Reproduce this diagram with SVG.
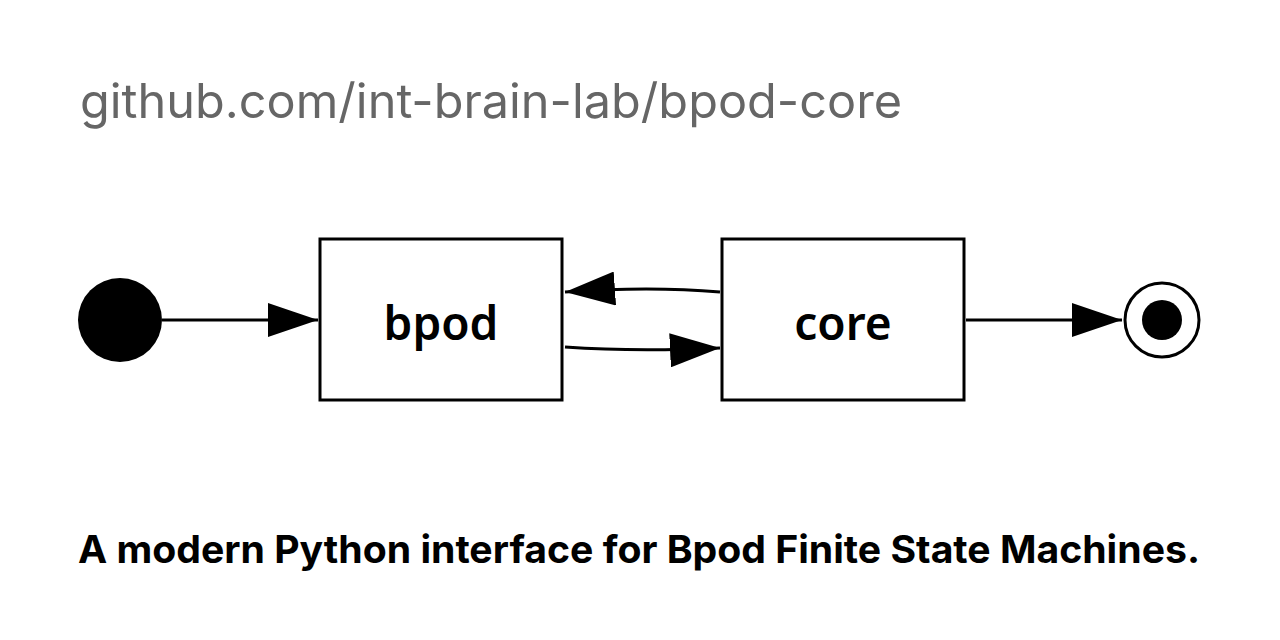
<svg xmlns="http://www.w3.org/2000/svg" width="1280" height="640" viewBox="0 0 1280 640">
<style>
.node{fill:#fff;stroke:#000;stroke-width:3}
.lbl{font-family:"Noto Sans",sans-serif;font-weight:600;font-size:46px;text-anchor:middle}
.edge{fill:none;stroke:#000;stroke-width:3}
</style>
<defs>
<marker id="ah" markerWidth="50" markerHeight="34" refX="50" refY="17" orient="auto" markerUnits="userSpaceOnUse">
<path d="M0,0 L50,17 L0,34 Z" fill="#000"/>
</marker>
</defs>
<rect width="1280" height="640" fill="#fff"/>
<text x="80" y="118" font-family="Inter,sans-serif" font-size="48" fill="#666" textLength="822" lengthAdjust="spacingAndGlyphs">github.com/int-brain-lab/bpod-core</text>
<g id="start"><circle cx="120" cy="320" r="42" fill="#000"/></g>
<g id="bpod"><rect class="node" x="320" y="239" width="242" height="161"/><text class="lbl" x="441" y="340">bpod</text></g>
<g id="core"><rect class="node" x="722" y="239" width="242" height="161"/><text class="lbl" x="843" y="340">core</text></g>
<g id="end"><circle cx="1162" cy="320" r="37" fill="#fff" stroke="#000" stroke-width="3"/><circle cx="1162" cy="320" r="20" fill="#000"/></g>
<g id="edges">
<path class="edge" d="M162,320 L318,320" marker-end="url(#ah)"/>
<path class="edge" d="M720,292 Q650,286 565,292" marker-end="url(#ah)"/>
<path class="edge" d="M565,347 Q635,352 720,348" marker-end="url(#ah)"/>
<path class="edge" d="M966,320 L1122,320" marker-end="url(#ah)"/>
</g>
<text x="78" y="563" font-family="Inter,sans-serif" font-weight="700" font-size="38" fill="#000" textLength="1122" lengthAdjust="spacingAndGlyphs">A modern Python interface for Bpod Finite State Machines.</text>
</svg>
